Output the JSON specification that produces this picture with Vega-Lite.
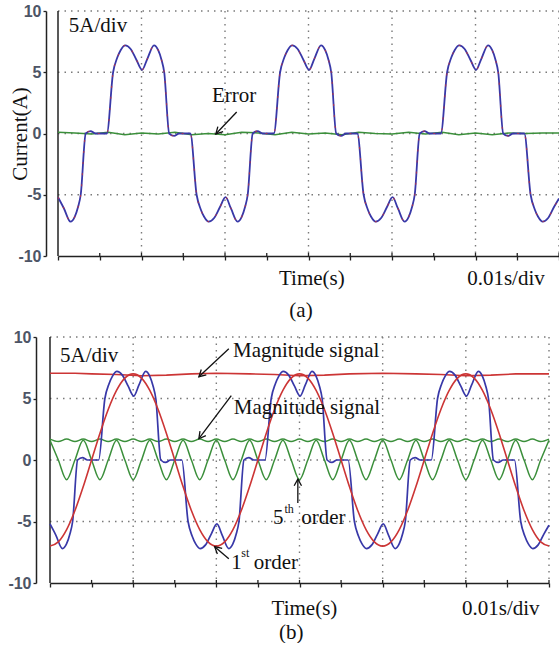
{
  "$schema": "https://vega.github.io/schema/vega-lite/v6.json",
  "background": "white",
  "padding": {"left": 7, "top": 3, "right": 0, "bottom": 0},
  "columns": 1,
  "spacing": 7,
  "config": {
    "view": {"stroke": null},
    "axis": {
      "grid": false,
      "domainColor": "#222222",
      "domainWidth": 1.5,
      "tickColor": "#222222",
      "tickWidth": 1.3,
      "labelFont": "Liberation Sans",
      "labelFontWeight": "bold",
      "labelFontSize": 16,
      "labelColor": "#4d5566"
    },
    "text": {"font": "Liberation Serif", "fontSize": 21, "color": "#111111"}
  },
  "datasets": {
    "one": [{}],
    "wave": [
      {"t":0,"v":-5.2},{"t":0.7,"v":-6.1},{"t":1.5,"v":-7.2},{"t":2.0,"v":-6.8},{"t":2.4,"v":-6.0},{"t":2.72,"v":-5.0},{"t":3.32,"v":0},{"t":3.9,"v":0.2},{"t":4.5,"v":0},{"t":5.85,"v":0},
      {"t":6.6,"v":5.0},{"t":7.1,"v":6.2},{"t":7.5,"v":6.8},{"t":8.05,"v":7.2},{"t":8.7,"v":6.9},{"t":9.4,"v":6.0},{"t":10.07,"v":5.2},{"t":10.7,"v":6.1},{"t":11.5,"v":7.2},{"t":12.0,"v":6.8},{"t":12.4,"v":6.0},{"t":12.72,"v":5.0},{"t":13.32,"v":0},{"t":13.9,"v":-0.2},{"t":14.5,"v":0},{"t":15.85,"v":0},
      {"t":16.6,"v":-5.0},{"t":17.1,"v":-6.2},{"t":17.5,"v":-6.8},{"t":18.05,"v":-7.2},{"t":18.7,"v":-6.9},{"t":19.4,"v":-6.0},
      {"t":20.07,"v":-5.2},{"t":20.7,"v":-6.1},{"t":21.5,"v":-7.2},{"t":22.0,"v":-6.8},{"t":22.4,"v":-6.0},{"t":22.72,"v":-5.0},{"t":23.32,"v":0},{"t":23.9,"v":0.2},{"t":24.5,"v":0},{"t":25.85,"v":0},
      {"t":26.6,"v":5.0},{"t":27.1,"v":6.2},{"t":27.5,"v":6.8},{"t":28.05,"v":7.2},{"t":28.7,"v":6.9},{"t":29.4,"v":6.0},{"t":30.07,"v":5.2},{"t":30.7,"v":6.1},{"t":31.5,"v":7.2},{"t":32.0,"v":6.8},{"t":32.4,"v":6.0},{"t":32.72,"v":5.0},{"t":33.32,"v":0},{"t":33.9,"v":-0.2},{"t":34.5,"v":0},{"t":35.85,"v":0},
      {"t":36.6,"v":-5.0},{"t":37.1,"v":-6.2},{"t":37.5,"v":-6.8},{"t":38.05,"v":-7.2},{"t":38.7,"v":-6.9},{"t":39.4,"v":-6.0},
      {"t":40.07,"v":-5.2},{"t":40.7,"v":-6.1},{"t":41.5,"v":-7.2},{"t":42.0,"v":-6.8},{"t":42.4,"v":-6.0},{"t":42.72,"v":-5.0},{"t":43.32,"v":0},{"t":43.9,"v":0.2},{"t":44.5,"v":0},{"t":45.85,"v":0},
      {"t":46.6,"v":5.0},{"t":47.1,"v":6.2},{"t":47.5,"v":6.8},{"t":48.05,"v":7.2},{"t":48.7,"v":6.9},{"t":49.4,"v":6.0},{"t":50.07,"v":5.2},{"t":50.7,"v":6.1},{"t":51.5,"v":7.2},{"t":52.0,"v":6.8},{"t":52.4,"v":6.0},{"t":52.72,"v":5.0},{"t":53.32,"v":0},{"t":53.9,"v":-0.2},{"t":54.5,"v":0},{"t":55.85,"v":0},
      {"t":56.6,"v":-5.0},{"t":57.1,"v":-6.2},{"t":57.5,"v":-6.8},{"t":58.05,"v":-7.2},{"t":58.7,"v":-6.9},{"t":59.4,"v":-6.0},{"t":60,"v":-5.3}
    ],
    "err": [
      {"t":0,"v":0.1},{"t":2,"v":0.05},{"t":4,"v":-0.05},{"t":6,"v":0.1},{"t":8,"v":-0.1},{"t":10,"v":0.05},{"t":12,"v":-0.05},{"t":14,"v":0.1},{"t":16,"v":-0.1},{"t":18,"v":0},
      {"t":20,"v":-0.1},{"t":22,"v":0.1},{"t":24,"v":0.05},{"t":26,"v":-0.1},{"t":28,"v":0.1},{"t":30,"v":-0.05},{"t":32,"v":0.05},{"t":34,"v":-0.1},{"t":36,"v":0.1},{"t":38,"v":0},
      {"t":40,"v":-0.05},{"t":42,"v":0.1},{"t":44,"v":-0.05},{"t":46,"v":0.1},{"t":48,"v":-0.1},{"t":50,"v":0.05},{"t":52,"v":-0.1},{"t":54,"v":0.05},{"t":56,"v":0},{"t":58,"v":0.05},{"t":60,"v":0.05}
    ],
    "sine": [
      {"t":0,"v":-7},{"t":1,"v":-6.66},{"t":2,"v":-5.66},{"t":3,"v":-4.11},{"t":4,"v":-2.16},{"t":5,"v":0},{"t":6,"v":2.16},{"t":7,"v":4.11},{"t":8,"v":5.66},{"t":9,"v":6.66},
      {"t":10,"v":7},{"t":11,"v":6.66},{"t":12,"v":5.66},{"t":13,"v":4.11},{"t":14,"v":2.16},{"t":15,"v":0},{"t":16,"v":-2.16},{"t":17,"v":-4.11},{"t":18,"v":-5.66},{"t":19,"v":-6.66},
      {"t":20,"v":-7},{"t":21,"v":-6.66},{"t":22,"v":-5.66},{"t":23,"v":-4.11},{"t":24,"v":-2.16},{"t":25,"v":0},{"t":26,"v":2.16},{"t":27,"v":4.11},{"t":28,"v":5.66},{"t":29,"v":6.66},
      {"t":30,"v":7},{"t":31,"v":6.66},{"t":32,"v":5.66},{"t":33,"v":4.11},{"t":34,"v":2.16},{"t":35,"v":0},{"t":36,"v":-2.16},{"t":37,"v":-4.11},{"t":38,"v":-5.66},{"t":39,"v":-6.66},
      {"t":40,"v":-7},{"t":41,"v":-6.66},{"t":42,"v":-5.66},{"t":43,"v":-4.11},{"t":44,"v":-2.16},{"t":45,"v":0},{"t":46,"v":2.16},{"t":47,"v":4.11},{"t":48,"v":5.66},{"t":49,"v":6.66},
      {"t":50,"v":7},{"t":51,"v":6.66},{"t":52,"v":5.66},{"t":53,"v":4.11},{"t":54,"v":2.16},{"t":55,"v":0},{"t":56,"v":-2.16},{"t":57,"v":-4.11},{"t":58,"v":-5.66},{"t":59,"v":-6.66},{"t":60,"v":-7}
    ],
    "mag": [
      {"t":0,"v":7.05},{"t":3,"v":7.05},{"t":5,"v":7.0},{"t":8,"v":6.95},{"t":11,"v":6.85},{"t":14,"v":6.9},{"t":17,"v":7.0},{"t":20,"v":7.05},{"t":24,"v":7.0},{"t":27,"v":6.95},
      {"t":30,"v":6.85},{"t":33,"v":6.9},{"t":36,"v":7.0},{"t":40,"v":7.05},{"t":44,"v":7.0},{"t":47,"v":6.95},{"t":50,"v":6.85},{"t":53,"v":6.9},{"t":56,"v":7.0},{"t":60,"v":7.0}
    ],
    "gmag": [
      {"t":0,"v":1.7},{"t":1,"v":1.5},{"t":2,"v":1.7},{"t":3,"v":1.5},{"t":4,"v":1.7},{"t":5,"v":1.5},{"t":6,"v":1.7},{"t":7,"v":1.5},{"t":8,"v":1.7},{"t":9,"v":1.5},
      {"t":10,"v":1.7},{"t":11,"v":1.5},{"t":12,"v":1.7},{"t":13,"v":1.5},{"t":14,"v":1.7},{"t":15,"v":1.5},{"t":16,"v":1.7},{"t":17,"v":1.5},{"t":18,"v":1.7},{"t":19,"v":1.5},
      {"t":20,"v":1.7},{"t":21,"v":1.5},{"t":22,"v":1.7},{"t":23,"v":1.5},{"t":24,"v":1.7},{"t":25,"v":1.5},{"t":26,"v":1.7},{"t":27,"v":1.5},{"t":28,"v":1.7},{"t":29,"v":1.5},
      {"t":30,"v":1.7},{"t":31,"v":1.5},{"t":32,"v":1.7},{"t":33,"v":1.5},{"t":34,"v":1.7},{"t":35,"v":1.5},{"t":36,"v":1.7},{"t":37,"v":1.5},{"t":38,"v":1.7},{"t":39,"v":1.5},
      {"t":40,"v":1.7},{"t":41,"v":1.5},{"t":42,"v":1.7},{"t":43,"v":1.5},{"t":44,"v":1.7},{"t":45,"v":1.5},{"t":46,"v":1.7},{"t":47,"v":1.5},{"t":48,"v":1.7},{"t":49,"v":1.5},
      {"t":50,"v":1.7},{"t":51,"v":1.5},{"t":52,"v":1.7},{"t":53,"v":1.5},{"t":54,"v":1.7},{"t":55,"v":1.5},{"t":56,"v":1.7},{"t":57,"v":1.5},{"t":58,"v":1.7},{"t":59,"v":1.5},{"t":60,"v":1.7}
    ],
    "h5": [
      {"t":0,"v":1.6},{"t":1,"v":0},{"t":2,"v":-1.6},{"t":3,"v":0},{"t":4,"v":1.6},{"t":5,"v":0},{"t":6,"v":-1.6},{"t":7,"v":0},{"t":8,"v":1.6},{"t":9,"v":0},
      {"t":10,"v":-1.6},{"t":11,"v":0},{"t":12,"v":1.6},{"t":13,"v":0},{"t":14,"v":-1.6},{"t":15,"v":0},{"t":16,"v":1.6},{"t":17,"v":0},{"t":18,"v":-1.6},{"t":19,"v":0},
      {"t":20,"v":1.6},{"t":21,"v":0},{"t":22,"v":-1.6},{"t":23,"v":0},{"t":24,"v":1.6},{"t":25,"v":0},{"t":26,"v":-1.6},{"t":27,"v":0},{"t":28,"v":1.6},{"t":29,"v":0},
      {"t":30,"v":-1.6},{"t":31,"v":0},{"t":32,"v":1.6},{"t":33,"v":0},{"t":34,"v":-1.6},{"t":35,"v":0},{"t":36,"v":1.6},{"t":37,"v":0},{"t":38,"v":-1.6},{"t":39,"v":0},
      {"t":40,"v":1.6},{"t":41,"v":0},{"t":42,"v":-1.6},{"t":43,"v":0},{"t":44,"v":1.6},{"t":45,"v":0},{"t":46,"v":-1.6},{"t":47,"v":0},{"t":48,"v":1.6},{"t":49,"v":0},
      {"t":50,"v":-1.6},{"t":51,"v":0},{"t":52,"v":1.6},{"t":53,"v":0},{"t":54,"v":-1.6},{"t":55,"v":0},{"t":56,"v":1.6},{"t":57,"v":0},{"t":58,"v":-1.6},{"t":59,"v":0},{"t":60,"v":1.6}
    ],
    "gridh": [{"v":10},{"v":5},{"v":0},{"v":-5}],
    "gridv": [{"t":10},{"t":20},{"t":30},{"t":40},{"t":50},{"t":60}],
    "xticks": [{"t":5},{"t":10},{"t":15},{"t":20},{"t":25},{"t":30},{"t":35},{"t":40},{"t":45},{"t":50},{"t":55},{"t":60}]
  },
  "concat": [
    {
      "width": 501,
      "height": 245,
      "layer": [
        {
          "data": {"name": "wave"},
          "mark": {"type": "line", "opacity": 0},
          "encoding": {
            "x": {"field": "t", "type": "quantitative", "title": null,
                  "scale": {"domain": [0, 60], "nice": false, "zero": false},
                  "axis": {"values": [0,5,10,15,20,25,30,35,40,45,50,55,60], "labels": false, "tickSize": 4}},
            "y": {"field": "v", "type": "quantitative",
                  "scale": {"domain": [-10, 10], "nice": false, "zero": false},
                  "axis": {"values": [-10,-7.5,-5,-2.5,0,2.5,5,7.5,10], "offset": 12, "tickSize": 3, "labelPadding": 2,
                           "labelExpr": "datum.value % 5 == 0 ? '' + datum.value : ''",
                           "title": "Current(A)", "titleFont": "Liberation Serif", "titleFontSize": 21, "titleFontWeight": "normal",
                           "titleColor": "#111111", "titleX": -26, "titleY": 122.5, "titleAngle": 270, "titleBaseline": "middle", "titleAlign": "center"}}
          }
        },
        {"data": {"name": "gridh"}, "mark": {"type": "rule", "color": "#7a7a7a", "strokeDash": [1.5, 5], "strokeWidth": 1.4},
         "encoding": {"y": {"field": "v", "type": "quantitative"}, "x": {"datum": 0}, "x2": {"datum": 60}}},
        {"data": {"name": "gridv"}, "mark": {"type": "rule", "color": "#7a7a7a", "strokeDash": [1.5, 5], "strokeWidth": 1.4},
         "encoding": {"x": {"field": "t", "type": "quantitative"}}},
        {"data": {"name": "xticks"}, "mark": {"type": "rule", "color": "#222222", "strokeWidth": 1.3},
         "encoding": {"x": {"field": "t", "type": "quantitative"}, "y": {"datum": -10}, "y2": {"datum": -9.75}}},
        {"data": {"name": "one"}, "mark": {"type": "rule", "color": "#222222", "strokeWidth": 1.5},
         "encoding": {"x": {"datum": 0}}},
        {"data": {"name": "err"}, "mark": {"type": "line", "color": "#3b8f3b", "strokeWidth": 1.5},
         "encoding": {"x": {"field": "t", "type": "quantitative"}, "y": {"field": "v", "type": "quantitative"}}},
        {"data": {"name": "wave"}, "mark": {"type": "line", "color": "#3838a8", "strokeWidth": 1.8, "interpolate": "monotone"},
         "encoding": {"x": {"field": "t", "type": "quantitative"}, "y": {"field": "v", "type": "quantitative"}}},
        {"data": {"name": "wave"}, "mark": {"type": "line", "color": "#d03030", "strokeWidth": 1.2, "strokeDash": [2, 9], "opacity": 0.7, "interpolate": "monotone"},
         "encoding": {"x": {"field": "t", "type": "quantitative"}, "y": {"field": "v", "type": "quantitative"}}},
        {"data": {"name": "one"}, "mark": {"type": "text", "align": "left", "baseline": "middle"},
         "encoding": {"x": {"datum": 1.3}, "y": {"datum": 8.78}, "text": {"value": "5A/div"}}},
        {"data": {"name": "one"}, "mark": {"type": "text", "align": "center", "baseline": "middle"},
         "encoding": {"x": {"datum": 21.1}, "y": {"datum": 3.06}, "text": {"value": "Error"}}},
        {"data": {"name": "one"}, "mark": {"type": "rule", "color": "#111111", "strokeWidth": 1.3},
         "encoding": {"x": {"datum": 21.4}, "y": {"datum": 1.76}, "x2": {"datum": 18.9}, "y2": {"datum": -0.04}}},
        {"data": {"name": "one"}, "mark": {"type": "point", "shape": "M -0.6 1.1 L 0 0 L 0.6 1.1", "size": 150, "filled": false, "stroke": "#111111", "strokeWidth": 1.3, "opacity": 1, "angle": 224},
         "encoding": {"x": {"datum": 18.9}, "y": {"datum": -0.04}}},
        {"data": {"name": "one"}, "mark": {"type": "text", "align": "center", "baseline": "middle"},
         "encoding": {"x": {"datum": 30.4}, "y": {"datum": -11.9}, "text": {"value": "Time(s)"}}},
        {"data": {"name": "one"}, "mark": {"type": "text", "align": "center", "baseline": "middle"},
         "encoding": {"x": {"datum": 53.65}, "y": {"datum": -11.9}, "text": {"value": "0.01s/div"}}},
        {"data": {"name": "one"}, "mark": {"type": "text", "align": "center", "baseline": "middle"},
         "encoding": {"x": {"datum": 29.1}, "y": {"datum": -14.5}, "text": {"value": "(a)"}}}
      ]
    },
    {
      "width": 491,
      "height": 246,
      "layer": [
        {
          "data": {"name": "wave"},
          "mark": {"type": "line", "opacity": 0},
          "encoding": {
            "x": {"field": "t", "type": "quantitative", "title": null,
                  "scale": {"domain": [0, 60], "nice": false, "zero": false, "range": [-8, 491]},
                  "axis": {"values": [0,5,10,15,20,25,30,35,40,45,50,55,60], "labels": false, "tickSize": 4}},
            "y": {"field": "v", "type": "quantitative", "title": null,
                  "scale": {"domain": [-10, 10], "nice": false, "zero": false},
                  "axis": {"values": [-10,-7.5,-5,-2.5,0,2.5,5,7.5,10], "offset": 22, "tickSize": 3, "labelPadding": 2,
                           "labelExpr": "datum.value % 5 == 0 ? '' + datum.value : ''"}}
          }
        },
        {"data": {"name": "gridh"}, "mark": {"type": "rule", "color": "#7a7a7a", "strokeDash": [1.5, 5], "strokeWidth": 1.4},
         "encoding": {"y": {"field": "v", "type": "quantitative"}, "x": {"datum": 0}, "x2": {"datum": 60}}},
        {"data": {"name": "gridv"}, "mark": {"type": "rule", "color": "#7a7a7a", "strokeDash": [1.5, 5], "strokeWidth": 1.4},
         "encoding": {"x": {"field": "t", "type": "quantitative"}}},
        {"data": {"name": "xticks"}, "mark": {"type": "rule", "color": "#222222", "strokeWidth": 1.3},
         "encoding": {"x": {"field": "t", "type": "quantitative"}, "y": {"datum": -10}, "y2": {"datum": -9.75}}},
        {"data": {"name": "one"}, "mark": {"type": "rule", "color": "#222222", "strokeWidth": 1.5},
         "encoding": {"x": {"datum": 0}}},
        {"data": {"name": "mag"}, "mark": {"type": "line", "color": "#cc3535", "strokeWidth": 1.6},
         "encoding": {"x": {"field": "t", "type": "quantitative"}, "y": {"field": "v", "type": "quantitative"}}},
        {"data": {"name": "gmag"}, "mark": {"type": "line", "color": "#3b8f3b", "strokeWidth": 1.5, "interpolate": "monotone"},
         "encoding": {"x": {"field": "t", "type": "quantitative"}, "y": {"field": "v", "type": "quantitative"}}},
        {"data": {"name": "h5"}, "mark": {"type": "line", "color": "#3b8f3b", "strokeWidth": 1.5, "interpolate": "monotone"},
         "encoding": {"x": {"field": "t", "type": "quantitative"}, "y": {"field": "v", "type": "quantitative"}}},
        {"data": {"name": "wave"}, "mark": {"type": "line", "color": "#3838a8", "strokeWidth": 1.7, "interpolate": "monotone"},
         "encoding": {"x": {"field": "t", "type": "quantitative"}, "y": {"field": "v", "type": "quantitative"}}},
        {"data": {"name": "sine"}, "mark": {"type": "line", "color": "#cc3535", "strokeWidth": 1.6, "interpolate": "monotone"},
         "encoding": {"x": {"field": "t", "type": "quantitative"}, "y": {"field": "v", "type": "quantitative"}}},
        {"data": {"name": "one"}, "mark": {"type": "text", "align": "left", "baseline": "middle"},
         "encoding": {"x": {"datum": 1.2}, "y": {"datum": 8.48}, "text": {"value": "5A/div"}}},
        {"data": {"name": "one"}, "mark": {"type": "text", "align": "left", "baseline": "middle"},
         "encoding": {"x": {"datum": 22.0}, "y": {"datum": 8.89}, "text": {"value": "Magnitude signal"}}},
        {"data": {"name": "one"}, "mark": {"type": "rule", "color": "#111111", "strokeWidth": 1.3},
         "encoding": {"x": {"datum": 21.5}, "y": {"datum": 9.05}, "x2": {"datum": 17.9}, "y2": {"datum": 6.77}}},
        {"data": {"name": "one"}, "mark": {"type": "point", "shape": "M -0.6 1.1 L 0 0 L 0.6 1.1", "size": 150, "filled": false, "stroke": "#111111", "strokeWidth": 1.3, "opacity": 1, "angle": 227},
         "encoding": {"x": {"datum": 17.9}, "y": {"datum": 6.77}}},
        {"data": {"name": "one"}, "mark": {"type": "text", "align": "left", "baseline": "middle"},
         "encoding": {"x": {"datum": 22.1}, "y": {"datum": 4.25}, "text": {"value": "Magnitude signal"}}},
        {"data": {"name": "one"}, "mark": {"type": "rule", "color": "#111111", "strokeWidth": 1.3},
         "encoding": {"x": {"datum": 21.8}, "y": {"datum": 5.23}, "x2": {"datum": 17.9}, "y2": {"datum": 1.73}}},
        {"data": {"name": "one"}, "mark": {"type": "point", "shape": "M -0.6 1.1 L 0 0 L 0.6 1.1", "size": 150, "filled": false, "stroke": "#111111", "strokeWidth": 1.3, "opacity": 1, "angle": 217},
         "encoding": {"x": {"datum": 17.9}, "y": {"datum": 1.73}}},
        {"data": {"name": "one"}, "mark": {"type": "text", "align": "left", "baseline": "middle"},
         "encoding": {"x": {"datum": 26.8}, "y": {"datum": -4.69}, "text": {"value": "5"}}},
        {"data": {"name": "one"}, "mark": {"type": "text", "align": "left", "baseline": "middle", "fontSize": 12},
         "encoding": {"x": {"datum": 28.2}, "y": {"datum": -3.95}, "text": {"value": "th"}}},
        {"data": {"name": "one"}, "mark": {"type": "text", "align": "left", "baseline": "middle"},
         "encoding": {"x": {"datum": 30.2}, "y": {"datum": -4.69}, "text": {"value": "order"}}},
        {"data": {"name": "one"}, "mark": {"type": "rule", "color": "#111111", "strokeWidth": 1.3},
         "encoding": {"x": {"datum": 29.8}, "y": {"datum": -3.5}, "x2": {"datum": 29.8}, "y2": {"datum": -1.55}}},
        {"data": {"name": "one"}, "mark": {"type": "point", "shape": "M -0.6 1.1 L 0 0 L 0.6 1.1", "size": 150, "filled": false, "stroke": "#111111", "strokeWidth": 1.3, "opacity": 1, "angle": 0},
         "encoding": {"x": {"datum": 29.8}, "y": {"datum": -1.55}}},
        {"data": {"name": "one"}, "mark": {"type": "text", "align": "left", "baseline": "middle"},
         "encoding": {"x": {"datum": 21.8}, "y": {"datum": -8.35}, "text": {"value": "1"}}},
        {"data": {"name": "one"}, "mark": {"type": "text", "align": "left", "baseline": "middle", "fontSize": 12},
         "encoding": {"x": {"datum": 23.0}, "y": {"datum": -7.55}, "text": {"value": "st"}}},
        {"data": {"name": "one"}, "mark": {"type": "text", "align": "left", "baseline": "middle"},
         "encoding": {"x": {"datum": 24.5}, "y": {"datum": -8.35}, "text": {"value": "order"}}},
        {"data": {"name": "one"}, "mark": {"type": "rule", "color": "#111111", "strokeWidth": 1.3},
         "encoding": {"x": {"datum": 21.5}, "y": {"datum": -8.03}, "x2": {"datum": 19.8}, "y2": {"datum": -7.05}}},
        {"data": {"name": "one"}, "mark": {"type": "point", "shape": "M -0.6 1.1 L 0 0 L 0.6 1.1", "size": 150, "filled": false, "stroke": "#111111", "strokeWidth": 1.3, "opacity": 1, "angle": 311},
         "encoding": {"x": {"datum": 19.8}, "y": {"datum": -7.05}}},
        {"data": {"name": "one"}, "mark": {"type": "text", "align": "center", "baseline": "middle"},
         "encoding": {"x": {"datum": 30.6}, "y": {"datum": -12.1}, "text": {"value": "Time(s)"}}},
        {"data": {"name": "one"}, "mark": {"type": "text", "align": "center", "baseline": "middle"},
         "encoding": {"x": {"datum": 54.2}, "y": {"datum": -12.1}, "text": {"value": "0.01s/div"}}},
        {"data": {"name": "one"}, "mark": {"type": "text", "align": "center", "baseline": "middle"},
         "encoding": {"x": {"datum": 29.0}, "y": {"datum": -14.05}, "text": {"value": "(b)"}}}
      ]
    }
  ]
}
